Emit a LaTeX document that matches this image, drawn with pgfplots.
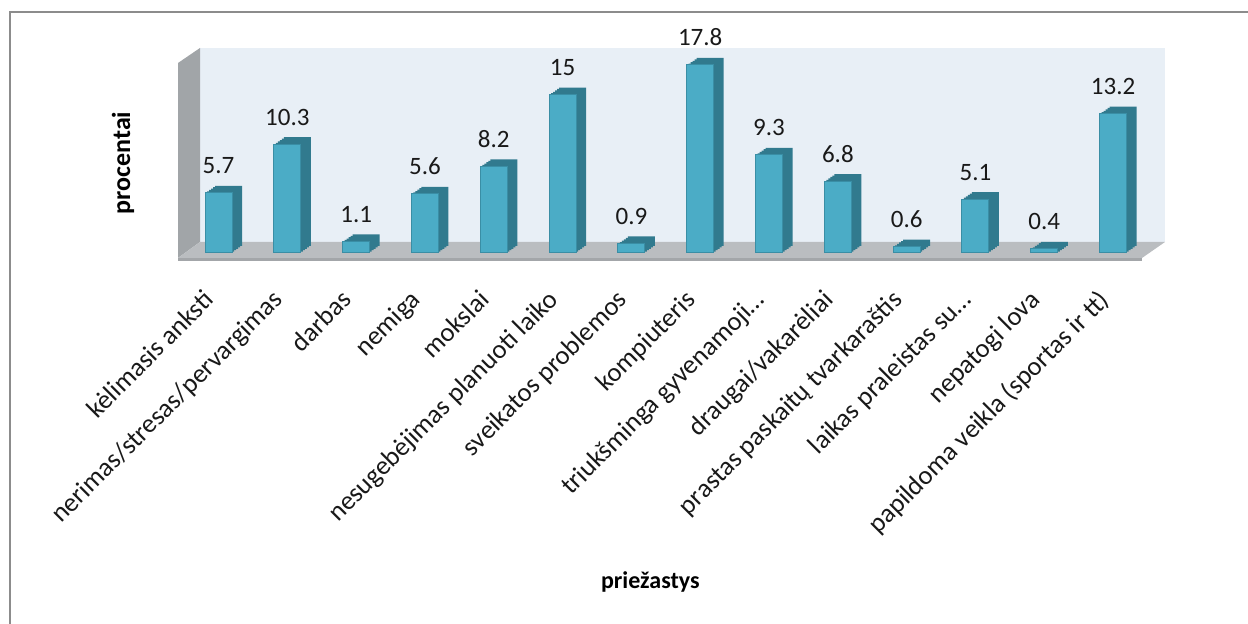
\documentclass[border=0pt]{standalone}
\usepackage{pgfplots}
\usepackage{pgfplotstable}
\pgfplotsset{compat=1.18}
\usepackage{fontspec}
\setmainfont{Carlito}
\definecolor{barfront}{HTML}{4BACC6}
\definecolor{baredge}{HTML}{3A8EA5}
\definecolor{barside}{HTML}{317A8E}
\definecolor{wallblue}{HTML}{E8EFF6}
\definecolor{wallgray}{HTML}{A1A5A8}
\definecolor{floorgray}{HTML}{BABDC0}
\definecolor{flooredge}{HTML}{A3A6A9}
\definecolor{framegray}{HTML}{8C8C8C}
\pgfplotstableread{
x y
0 5.7
1 10.3
2 1.1
3 5.6
4 8.2
5 15
6 0.9
7 17.8
8 9.3
9 6.8
10 0.6
11 5.1
12 0.4
13 13.2
}\datatable
\begin{document}
\begin{tikzpicture}[x=1pt,y=1pt]
\useasboundingbox (0,0) rectangle (624,312);
\fill[wallblue] (100,191) rectangle (582.5,288);
\fill[wallgray] (89,183) -- (89,280.5) -- (100,288) -- (100,191) -- cycle;
\fill[floorgray] (89,183) -- (571,183) -- (582.5,191) -- (100,191) -- cycle;
\fill[flooredge] (89,181.5) rectangle (571,183);
\draw[framegray, line width=1pt] (4.75,0) -- (4.75,305.75) -- (624,305.75);
\begin{axis}[
  at={(89pt,185.5pt)}, anchor=south west,
  scale only axis, width=482pt, height=102.5pt,
  xmin=-0.589, xmax=13.42, ymin=0, ymax=19.41,
  clip=false,
  axis line style={draw=none},
  major tick length=0pt,
  ytick=\empty,
  xtick={0,...,13},
  xticklabels={{kėlimasis anksti},{nerimas/stresas/pervargimas},{darbas},{nemiga},{mokslai},{nesugebėjimas planuoti laiko},{sveikatos problemos},{kompiuteris},{triukšminga gyvenamoji\dots},{draugai/vakarėliai},{prastas paskaitų tvarkaraštis},{laikas praleistas su\dots},{nepatogi lova},{papildoma veikla (sportas ir tt)}},
  xticklabel style={rotate=45, anchor=north east, font=\fontsize{13.3}{15}\selectfont, text=black!90, inner sep=0pt, xshift=-18pt, yshift=-6.6pt},
  /pgf/number format/assume math mode=true,
  xlabel={priežastys},
  ylabel={procentai},
  xlabel style={at={(axis description cs:0.49,-1.605)}, anchor=center, font=\bfseries\fontsize{12}{14}\selectfont},
  ylabel style={at={(axis description cs:-0.057,0.439)}, anchor=center, rotate=0, font=\bfseries\fontsize{13}{15}\selectfont},
]
\pgfplotsinvokeforeach{1,2,3,4,5}{
  \addplot[ybar, bar shift=0pt, bar width=13.5pt, fill=barside, draw=none, xshift=#1pt, yshift=#1*0.7pt] table[x=x,y=y]{\datatable};
}
\addplot[ybar, bar shift=0pt, bar width=13.5pt, fill=barfront, draw=baredge, line width=0.5pt,
  nodes near coords,
  every node near coord/.append style={anchor=base, yshift=9.5pt, inner sep=0pt, font=\fontsize{12.5}{14}\selectfont, text=black!90}] table[x=x,y=y]{\datatable};
\end{axis}
\end{tikzpicture}
\end{document}
